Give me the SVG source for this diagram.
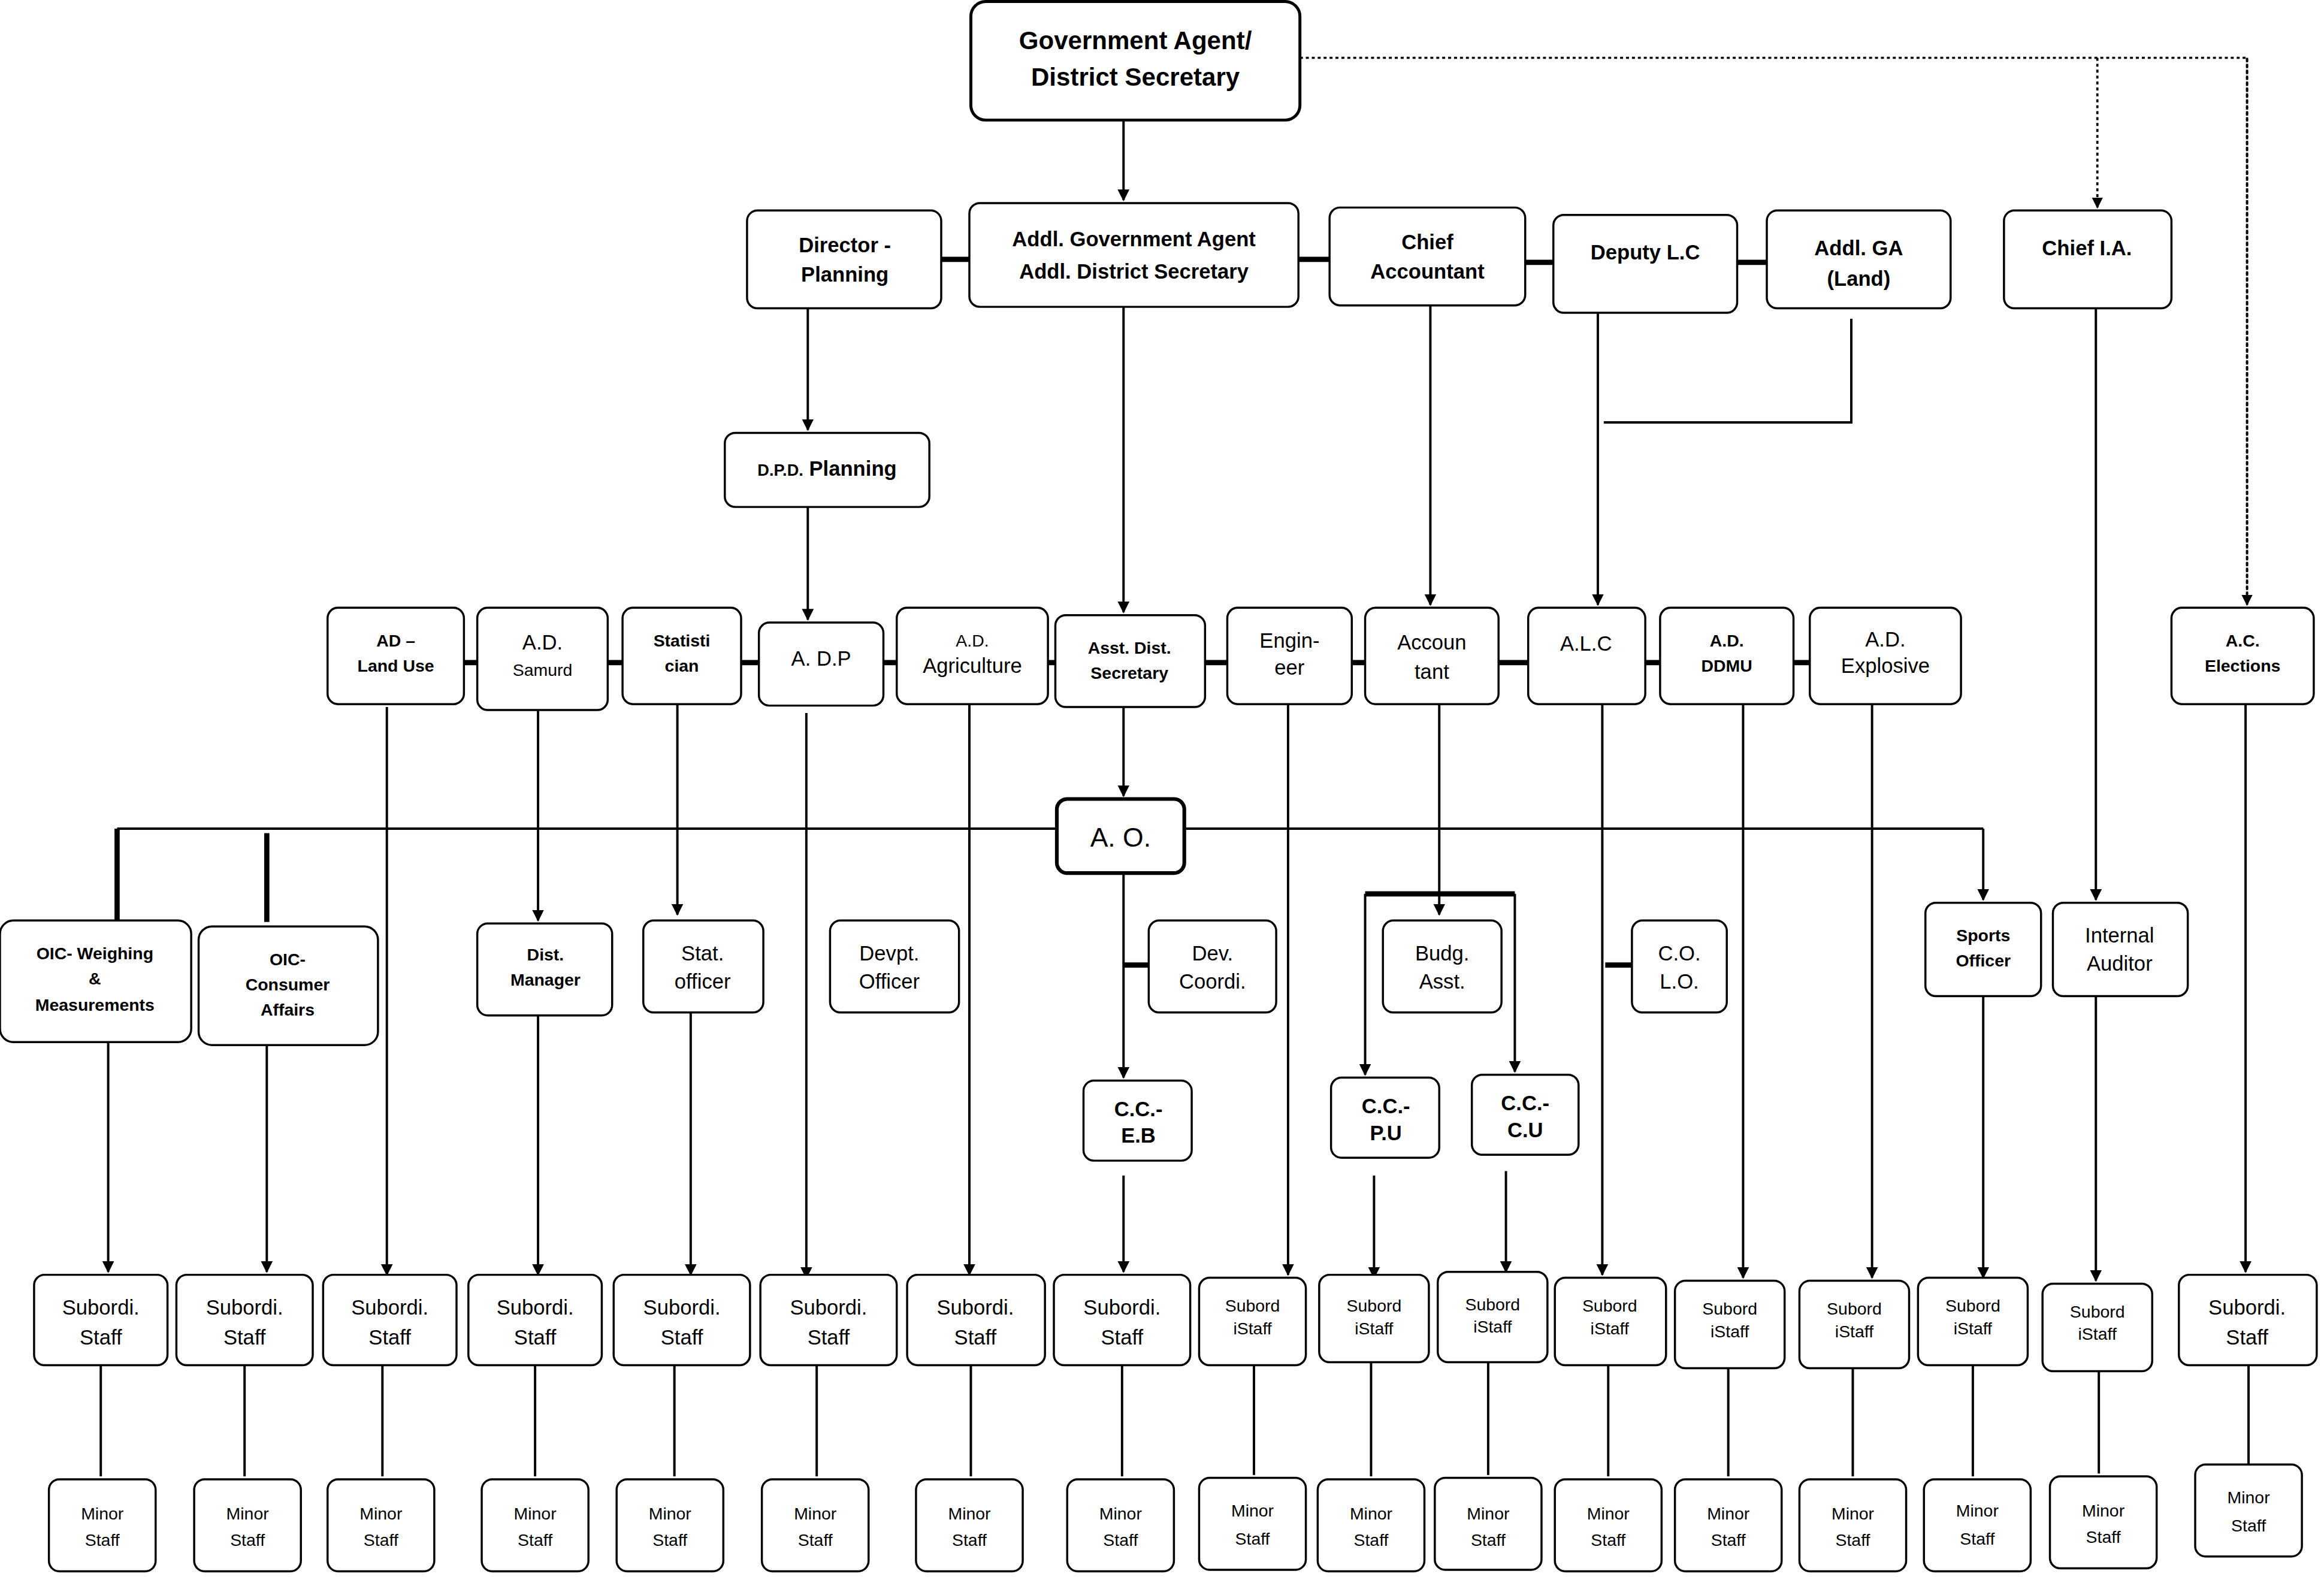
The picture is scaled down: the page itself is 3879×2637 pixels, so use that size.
<svg xmlns="http://www.w3.org/2000/svg" width="3879" height="2637" viewBox="0 0 3879 2637">
<defs>
<marker id="ah" viewBox="0 0 10 10" refX="9" refY="5" markerWidth="5" markerHeight="5" orient="auto"><path d="M0,0 L10,5 L0,10 z" fill="#000"/></marker>
<style>
.n{fill:#fff;stroke:#000;stroke-width:1.4}
.t{font-family:"Liberation Sans",Arial,sans-serif;font-size:14px;text-anchor:middle;fill:#000}
.b{font-weight:bold}
.s{font-size:11.5px}
.c{stroke:#000;stroke-width:1.6;fill:none}
.a{marker-end:url(#ah)}
.k{stroke:#000;stroke-width:3.5;fill:none}
.d{stroke:#000;stroke-width:1.5;stroke-dasharray:2,2;fill:none}
</style>
</defs>
<rect width="3879" height="2637" fill="#fff"/>
<g transform="scale(2.474)">
<g id="connectors">
<path class="c a" d="M758,81V135"/>
<path class="d" d="M877,39H1516V408"/><path class="d a" d="M1516,39V408"/>
<path class="d a" d="M1415,39V140"/>
<path class="k" d="M635,175H654M876,175H897M1029,177H1048M1172,177H1192"/>
<path class="k" d="M313,447H322M410,447H420M500,447H512M596,447H605M707,447H712M813,447H828M912,447H921M1011,447H1031M1110,447H1120M1210,447H1221"/>
<path class="c a" d="M545,208V290"/>
<path class="c a" d="M545,342V418"/>
<path class="c a" d="M758,207V413"/>
<path class="c a" d="M965,206V408"/>
<path class="c a" d="M1078,211V408"/>
<path class="c" d="M1249,215V285H1082"/>
<path class="c a" d="M1414,208V607"/>
<path class="c a" d="M758,477V537"/>
<path class="c a" d="M758,589V727"/>
<path class="k" d="M758,651H775M1083,651H1101"/>
<path class="c" d="M79,559H713M799,559H1338"/>
<path class="k" d="M79,559V621M180,562V622"/>
<path class="c a" d="M1338,559V607"/>
<path class="c a" d="M261,477V860"/>
<path class="c a" d="M363,479V621"/>
<path class="c a" d="M363,685V860"/>
<path class="c a" d="M457,475V617"/>
<path class="c a" d="M466,683V860"/>
<path class="c a" d="M544,481V862"/>
<path class="c a" d="M654,475V860"/>
<path class="c a" d="M869,475V860"/>
<path class="c a" d="M971,475V617"/>
<path class="k" d="M921,603H1022"/>
<path class="c a" d="M921,603V725"/>
<path class="c a" d="M1022,603V723"/>
<path class="c a" d="M927,793V862"/>
<path class="c a" d="M1016,790V858"/>
<path class="c a" d="M758,793V858"/>
<path class="c a" d="M1081,475V860"/>
<path class="c a" d="M1176,475V862"/>
<path class="c a" d="M1263,475V862"/>
<path class="c a" d="M1338,672V862"/>
<path class="c a" d="M1414,672V864"/>
<path class="c a" d="M1515,475V858"/>
<path class="c a" d="M73,703V858"/>
<path class="c a" d="M180,705V858"/>
<path class="c a" d="M68,921V996M165,921V996M258,921V996M361,921V996M455,921V996M551,921V996M655,921V996M757,921V996M846,921V995M925,919V996M1004,919V995M1085,921V996M1166,923V996M1250,923V996M1331,921V996M1416,925V994M1517,921V995"/>
</g>
<g id="ga"><rect class="n" style="stroke-width:2" x="655" y="1" width="222" height="80" rx="10"/><text class="t b" style="font-size:17px" x="766" y="33">Government Agent/</text><text class="t b" style="font-size:17px" x="766" y="58">District Secretary</text></g>
<g id="dirplan"><rect class="n" x="504" y="142" width="131" height="66" rx="7"/><text class="t b" x="570" y="170">Director -</text><text class="t b" x="570" y="190">Planning</text></g>
<g id="addlga"><rect class="n" x="654" y="137" width="222" height="70" rx="7"/><text class="t b" x="765" y="166">Addl. Government Agent</text><text class="t b" x="765" y="188">Addl. District Secretary</text></g>
<g id="chiefacc"><rect class="n" x="897" y="140" width="132" height="66" rx="7"/><text class="t b" x="963" y="168">Chief</text><text class="t b" x="963" y="188">Accountant</text></g>
<g id="deplc"><rect class="n" x="1048" y="145" width="124" height="66" rx="7"/><text class="t b" x="1110" y="175">Deputy L.C</text></g>
<g id="addlgaland"><rect class="n" x="1192" y="142" width="124" height="66" rx="7"/><text class="t b" x="1254" y="172">Addl. GA</text><text class="t b" x="1254" y="193">(Land)</text></g>
<g id="chiefia"><rect class="n" x="1352" y="142" width="113" height="66" rx="7"/><text class="t b" x="1408" y="172">Chief I.A.</text></g>
<g id="dpd"><rect class="n" x="489" y="292" width="138" height="50" rx="7"/><text class="t b" x="558" y="321"><tspan style="font-size:11px">D.P.D.</tspan> Planning</text></g>
<g id="landuse"><rect class="n" x="221" y="410" width="92" height="65" rx="7"/><text class="t b s" x="267" y="436">AD –</text><text class="t b s" x="267" y="453">Land Use</text></g>
<g id="samurd"><rect class="n" x="322" y="410" width="88" height="69" rx="7"/><text class="t" x="366" y="438">A.D.</text><text class="t s" x="366" y="456">Samurd</text></g>
<g id="stat"><rect class="n" x="420" y="410" width="80" height="65" rx="7"/><text class="t b s" x="460" y="436">Statisti</text><text class="t b s" x="460" y="453">cian</text></g>
<g id="adp"><rect class="n" x="512" y="420" width="84" height="56" rx="7"/><text class="t" x="554" y="449">A. D.P</text></g>
<g id="agri"><rect class="n" x="605" y="410" width="102" height="65" rx="7"/><text class="t s" x="656" y="436">A.D.</text><text class="t" x="656" y="454">Agriculture</text></g>
<g id="ads"><rect class="n" x="712" y="415" width="101" height="62" rx="7"/><text class="t b s" x="762" y="441">Asst. Dist.</text><text class="t b s" x="762" y="458">Secretary</text></g>
<g id="eng"><rect class="n" x="828" y="410" width="84" height="65" rx="7"/><text class="t" x="870" y="437">Engin-</text><text class="t" x="870" y="455">eer</text></g>
<g id="acct"><rect class="n" x="921" y="410" width="90" height="65" rx="7"/><text class="t" x="966" y="438">Accoun</text><text class="t" x="966" y="458">tant</text></g>
<g id="alc"><rect class="n" x="1031" y="410" width="79" height="65" rx="7"/><text class="t" x="1070" y="439">A.L.C</text></g>
<g id="ddmu"><rect class="n" x="1120" y="410" width="90" height="65" rx="7"/><text class="t b s" x="1165" y="436">A.D.</text><text class="t b s" x="1165" y="453">DDMU</text></g>
<g id="explosive"><rect class="n" x="1221" y="410" width="102" height="65" rx="7"/><text class="t" x="1272" y="436">A.D.</text><text class="t" x="1272" y="454">Explosive</text></g>
<g id="elections"><rect class="n" x="1465" y="410" width="96" height="65" rx="7"/><text class="t b s" x="1513" y="436">A.C.</text><text class="t b s" x="1513" y="453">Elections</text></g>
<g id="ao"><rect class="n" style="stroke-width:2.5" x="713" y="539" width="86" height="50" rx="7"/><text class="t" style="font-size:18px" x="756" y="571">A. O.</text></g>
<g id="oicw"><rect class="n" x="0" y="621" width="129" height="82" rx="9"/><text class="t b s" x="64" y="647">OIC- Weighing</text><text class="t b s" x="64" y="664">&amp;</text><text class="t b s" x="64" y="682">Measurements</text></g>
<g id="oicc"><rect class="n" x="134" y="625" width="121" height="80" rx="9"/><text class="t b s" x="194" y="651">OIC-</text><text class="t b s" x="194" y="668">Consumer</text><text class="t b s" x="194" y="685">Affairs</text></g>
<g id="distman"><rect class="n" x="322" y="623" width="91" height="62" rx="7"/><text class="t b s" x="368" y="648">Dist.</text><text class="t b s" x="368" y="665">Manager</text></g>
<g id="statoff"><rect class="n" x="434" y="621" width="81" height="62" rx="7"/><text class="t" x="474" y="648">Stat.</text><text class="t" x="474" y="667">officer</text></g>
<g id="devpt"><rect class="n" x="560" y="621" width="87" height="62" rx="7"/><text class="t" x="600" y="648">Devpt.</text><text class="t" x="600" y="667">Officer</text></g>
<g id="devco"><rect class="n" x="775" y="621" width="86" height="62" rx="7"/><text class="t" x="818" y="648">Dev.</text><text class="t" x="818" y="667">Coordi.</text></g>
<g id="budg"><rect class="n" x="933" y="621" width="80" height="62" rx="7"/><text class="t" x="973" y="648">Budg.</text><text class="t" x="973" y="667">Asst.</text></g>
<g id="colo"><rect class="n" x="1101" y="621" width="64" height="62" rx="7"/><text class="t" x="1133" y="648">C.O.</text><text class="t" x="1133" y="667">L.O.</text></g>
<g id="sports"><rect class="n" x="1299" y="609" width="78" height="63" rx="7"/><text class="t b s" x="1338" y="635">Sports</text><text class="t b s" x="1338" y="652">Officer</text></g>
<g id="intaud"><rect class="n" x="1385" y="609" width="91" height="63" rx="7"/><text class="t" x="1430" y="636">Internal</text><text class="t" x="1430" y="655">Auditor</text></g>
<g id="cceb"><rect class="n" x="731" y="729" width="73" height="54" rx="7"/><text class="t b" x="768" y="753">C.C.-</text><text class="t b" x="768" y="771">E.B</text></g>
<g id="ccpu"><rect class="n" x="898" y="727" width="73" height="54" rx="7"/><text class="t b" x="935" y="751">C.C.-</text><text class="t b" x="935" y="769">P.U</text></g>
<g id="cccu"><rect class="n" x="993" y="725" width="72" height="54" rx="7"/><text class="t b" x="1029" y="749">C.C.-</text><text class="t b" x="1029" y="767">C.U</text></g>
<g id="subordinates">
<g id="sub1"><rect class="n" x="23" y="860" width="90" height="61" rx="7"/><text class="t" x="68" y="887">Subordi.</text><text class="t" x="68" y="907">Staff</text></g>
<g id="sub2"><rect class="n" x="119" y="860" width="92" height="61" rx="7"/><text class="t" x="165" y="887">Subordi.</text><text class="t" x="165" y="907">Staff</text></g>
<g id="sub3"><rect class="n" x="218" y="860" width="90" height="61" rx="7"/><text class="t" x="263" y="887">Subordi.</text><text class="t" x="263" y="907">Staff</text></g>
<g id="sub4"><rect class="n" x="316" y="860" width="90" height="61" rx="7"/><text class="t" x="361" y="887">Subordi.</text><text class="t" x="361" y="907">Staff</text></g>
<g id="sub5"><rect class="n" x="414" y="860" width="92" height="61" rx="7"/><text class="t" x="460" y="887">Subordi.</text><text class="t" x="460" y="907">Staff</text></g>
<g id="sub6"><rect class="n" x="513" y="860" width="92" height="61" rx="7"/><text class="t" x="559" y="887">Subordi.</text><text class="t" x="559" y="907">Staff</text></g>
<g id="sub7"><rect class="n" x="612" y="860" width="93" height="61" rx="7"/><text class="t" x="658" y="887">Subordi.</text><text class="t" x="658" y="907">Staff</text></g>
<g id="sub8"><rect class="n" x="711" y="860" width="92" height="61" rx="7"/><text class="t" x="757" y="887">Subordi.</text><text class="t" x="757" y="907">Staff</text></g>
<g id="sub9"><rect class="n" x="809" y="862" width="72" height="59" rx="7"/><text class="t s" x="845" y="885">Subord</text><text class="t s" x="845" y="900">iStaff</text></g>
<g id="sub10"><rect class="n" x="890" y="860" width="74" height="59" rx="7"/><text class="t s" x="927" y="885">Subord</text><text class="t s" x="927" y="900">iStaff</text></g>
<g id="sub11"><rect class="n" x="970" y="858" width="74" height="61" rx="7"/><text class="t s" x="1007" y="884">Subord</text><text class="t s" x="1007" y="899">iStaff</text></g>
<g id="sub12"><rect class="n" x="1049" y="862" width="75" height="59" rx="7"/><text class="t s" x="1086" y="885">Subord</text><text class="t s" x="1086" y="900">iStaff</text></g>
<g id="sub13"><rect class="n" x="1130" y="864" width="74" height="59" rx="7"/><text class="t s" x="1167" y="887">Subord</text><text class="t s" x="1167" y="902">iStaff</text></g>
<g id="sub14"><rect class="n" x="1214" y="864" width="74" height="59" rx="7"/><text class="t s" x="1251" y="887">Subord</text><text class="t s" x="1251" y="902">iStaff</text></g>
<g id="sub15"><rect class="n" x="1294" y="862" width="74" height="59" rx="7"/><text class="t s" x="1331" y="885">Subord</text><text class="t s" x="1331" y="900">iStaff</text></g>
<g id="sub16"><rect class="n" x="1378" y="866" width="74" height="59" rx="7"/><text class="t s" x="1415" y="889">Subord</text><text class="t s" x="1415" y="904">iStaff</text></g>
<g id="sub17"><rect class="n" x="1470" y="860" width="93" height="61" rx="7"/><text class="t" x="1516" y="887">Subordi.</text><text class="t" x="1516" y="907">Staff</text></g>
</g>
<g id="minor">
<g id="m1"><rect class="n" x="33" y="998" width="72" height="62" rx="7"/><text class="t s" x="69" y="1025">Minor</text><text class="t s" x="69" y="1043">Staff</text></g>
<g id="m2"><rect class="n" x="131" y="998" width="72" height="62" rx="7"/><text class="t s" x="167" y="1025">Minor</text><text class="t s" x="167" y="1043">Staff</text></g>
<g id="m3"><rect class="n" x="221" y="998" width="72" height="62" rx="7"/><text class="t s" x="257" y="1025">Minor</text><text class="t s" x="257" y="1043">Staff</text></g>
<g id="m4"><rect class="n" x="325" y="998" width="72" height="62" rx="7"/><text class="t s" x="361" y="1025">Minor</text><text class="t s" x="361" y="1043">Staff</text></g>
<g id="m5"><rect class="n" x="416" y="998" width="72" height="62" rx="7"/><text class="t s" x="452" y="1025">Minor</text><text class="t s" x="452" y="1043">Staff</text></g>
<g id="m6"><rect class="n" x="514" y="998" width="72" height="62" rx="7"/><text class="t s" x="550" y="1025">Minor</text><text class="t s" x="550" y="1043">Staff</text></g>
<g id="m7"><rect class="n" x="618" y="998" width="72" height="62" rx="7"/><text class="t s" x="654" y="1025">Minor</text><text class="t s" x="654" y="1043">Staff</text></g>
<g id="m8"><rect class="n" x="720" y="998" width="72" height="62" rx="7"/><text class="t s" x="756" y="1025">Minor</text><text class="t s" x="756" y="1043">Staff</text></g>
<g id="m9"><rect class="n" x="809" y="997" width="72" height="62" rx="7"/><text class="t s" x="845" y="1023">Minor</text><text class="t s" x="845" y="1042">Staff</text></g>
<g id="m10"><rect class="n" x="889" y="998" width="72" height="62" rx="7"/><text class="t s" x="925" y="1025">Minor</text><text class="t s" x="925" y="1043">Staff</text></g>
<g id="m11"><rect class="n" x="968" y="997" width="72" height="62" rx="7"/><text class="t s" x="1004" y="1025">Minor</text><text class="t s" x="1004" y="1043">Staff</text></g>
<g id="m12"><rect class="n" x="1049" y="998" width="72" height="62" rx="7"/><text class="t s" x="1085" y="1025">Minor</text><text class="t s" x="1085" y="1043">Staff</text></g>
<g id="m13"><rect class="n" x="1130" y="998" width="72" height="62" rx="7"/><text class="t s" x="1166" y="1025">Minor</text><text class="t s" x="1166" y="1043">Staff</text></g>
<g id="m14"><rect class="n" x="1214" y="998" width="72" height="62" rx="7"/><text class="t s" x="1250" y="1025">Minor</text><text class="t s" x="1250" y="1043">Staff</text></g>
<g id="m15"><rect class="n" x="1298" y="998" width="72" height="62" rx="7"/><text class="t s" x="1334" y="1023">Minor</text><text class="t s" x="1334" y="1042">Staff</text></g>
<g id="m16"><rect class="n" x="1383" y="996" width="72" height="62" rx="7"/><text class="t s" x="1419" y="1023">Minor</text><text class="t s" x="1419" y="1041">Staff</text></g>
<g id="m17"><rect class="n" x="1481" y="988" width="72" height="62" rx="7"/><text class="t s" x="1517" y="1014">Minor</text><text class="t s" x="1517" y="1033">Staff</text></g>
</g>
</g>
</svg>
